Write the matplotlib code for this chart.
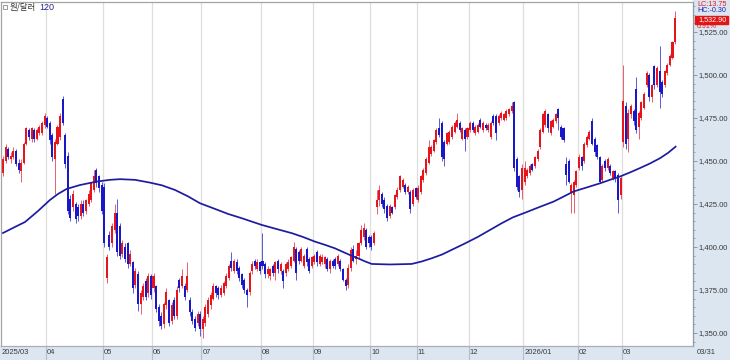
import numpy as np
import matplotlib.pyplot as plt
import matplotlib.ticker as mticker
import matplotlib.transforms as mtransforms
from matplotlib.patches import Rectangle

plt.rcParams['font.family'] = ['Liberation Sans', 'DejaVu Sans']

month_labels = ['2025/03', '04', '05', '06', '07', '08', '09', '10', '11', '12', '2026/01', '02', '03']
month_days = [17, 22, 19, 19, 23, 20, 22, 18, 20, 21, 21, 17, 21]
last_date = '03/31'

# daily candles
opens = [
    1443, 1450, 1457, 1451, 1452, 1456, 1449, 1444, 1449, 1460, 1468, 1463, 1468, 1463, 1466, 1466, 1471,
    1475, 1472, 1465, 1451, 1460, 1464, 1486, 1465, 1453, 1428, 1423, 1425, 1423, 1418, 1425, 1421, 1425, 1427, 1433, 1445, 1441, 1436,
    1435, 1382, 1407, 1402, 1410, 1420, 1412, 1396, 1400, 1402, 1390, 1391, 1378, 1384, 1367, 1371, 1380, 1373, 1383,
    1376, 1377, 1365, 1360, 1355, 1366, 1369, 1357, 1369, 1360, 1381, 1377, 1377, 1375, 1369, 1362, 1358, 1356, 1361,
    1352, 1356, 1361, 1366, 1370, 1377, 1376, 1372, 1373, 1377, 1382, 1392, 1386, 1391, 1388, 1384, 1381, 1375, 1374, 1386, 1392, 1387, 1391,
    1392, 1390, 1384, 1383, 1389, 1385, 1392, 1386, 1386, 1385, 1387, 1389, 1392, 1399, 1397, 1392, 1389, 1399, 1393, 1389,
    1391, 1397, 1390, 1391, 1390, 1393, 1387, 1392, 1393, 1390, 1392, 1387, 1381, 1378, 1388, 1399, 1393, 1395, 1402, 1406, 1410, 1406,
    1406, 1402, 1423, 1427, 1431, 1427, 1424, 1418, 1423, 1423, 1429, 1433, 1435, 1436, 1432, 1432, 1425, 1434,
    1427, 1432, 1439, 1443, 1449, 1454, 1456, 1461, 1469, 1472, 1461, 1460, 1461, 1464, 1467, 1470, 1472, 1463, 1468, 1464,
    1468, 1472, 1466, 1467, 1474, 1468, 1471, 1468, 1464, 1476, 1476, 1472, 1475, 1474, 1475, 1477, 1479, 1484, 1451, 1441, 1433,
    1438, 1441, 1443, 1448, 1447, 1451, 1458, 1467, 1471, 1477, 1466, 1470, 1473, 1480, 1470, 1469, 1448, 1450, 1432, 1430, 1436,
    1446, 1452, 1450, 1459, 1463, 1473, 1463, 1459, 1452, 1439, 1450, 1446, 1447, 1440, 1444, 1442, 1430,
    1461, 1482, 1463, 1477, 1479, 1492, 1470, 1475, 1481, 1494, 1500, 1487, 1505, 1494, 1502, 1496, 1494, 1501, 1506, 1510, 1519,
]
highs = [
    1453, 1460, 1458, 1455, 1458, 1457, 1451, 1451, 1461, 1470, 1469, 1470, 1469, 1469, 1471, 1473, 1478,
    1476, 1473, 1466, 1463, 1471, 1478, 1488, 1466, 1455, 1430, 1433, 1426, 1425, 1427, 1427, 1428, 1433, 1438, 1445, 1446, 1442, 1438,
    1437, 1396, 1409, 1414, 1425, 1428, 1414, 1404, 1402, 1403, 1398, 1392, 1388, 1386, 1375, 1379, 1382, 1385, 1384,
    1385, 1378, 1367, 1362, 1368, 1376, 1370, 1368, 1371, 1377, 1382, 1387, 1379, 1391, 1371, 1364, 1360, 1363, 1363,
    1360, 1367, 1371, 1374, 1379, 1378, 1377, 1378, 1380, 1385, 1390, 1397, 1393, 1393, 1389, 1385, 1382, 1376, 1386, 1392, 1393, 1393, 1392,
    1408, 1391, 1389, 1388, 1390, 1392, 1393, 1391, 1387, 1391, 1393, 1395, 1403, 1400, 1398, 1400, 1396, 1400, 1394, 1395,
    1396, 1398, 1396, 1396, 1395, 1394, 1393, 1393, 1394, 1396, 1393, 1388, 1382, 1390, 1400, 1401, 1398, 1403, 1413, 1414, 1411, 1407,
    1407, 1409, 1433, 1436, 1432, 1429, 1425, 1425, 1424, 1431, 1435, 1442, 1440, 1437, 1436, 1433, 1434, 1435,
    1436, 1442, 1446, 1452, 1462, 1459, 1463, 1469, 1475, 1473, 1462, 1467, 1468, 1471, 1473, 1478, 1473, 1470, 1469, 1470,
    1473, 1473, 1471, 1472, 1475, 1473, 1472, 1472, 1473, 1477, 1477, 1477, 1479, 1478, 1480, 1481, 1484, 1485, 1452, 1442, 1448,
    1450, 1446, 1448, 1449, 1453, 1457, 1469, 1478, 1480, 1478, 1474, 1475, 1478, 1481, 1471, 1470, 1452, 1451, 1437, 1439, 1445,
    1454, 1453, 1461, 1465, 1468, 1475, 1464, 1460, 1453, 1448, 1451, 1452, 1448, 1445, 1445, 1443, 1441,
    1506, 1484, 1480, 1483, 1480, 1499, 1479, 1485, 1490, 1502, 1501, 1495, 1506, 1505, 1517, 1497, 1503, 1507, 1512, 1520, 1537,
]
lows = [
    1441, 1449, 1451, 1449, 1451, 1447, 1443, 1438, 1448, 1459, 1462, 1461, 1461, 1462, 1465, 1465, 1469,
    1469, 1460, 1450, 1431, 1459, 1462, 1471, 1446, 1419, 1415, 1421, 1414, 1415, 1416, 1418, 1419, 1424, 1426, 1432, 1435, 1432, 1419,
    1400, 1379, 1398, 1400, 1408, 1395, 1393, 1394, 1391, 1388, 1389, 1373, 1376, 1363, 1361, 1369, 1369, 1371, 1370,
    1374, 1362, 1354, 1352, 1353, 1364, 1354, 1355, 1358, 1358, 1374, 1376, 1369, 1374, 1360, 1355, 1351, 1354, 1348,
    1347, 1354, 1359, 1364, 1369, 1371, 1370, 1371, 1372, 1376, 1381, 1386, 1385, 1384, 1380, 1376, 1373, 1365, 1372, 1384, 1387, 1386, 1384,
    1387, 1382, 1382, 1381, 1383, 1381, 1385, 1384, 1376, 1383, 1386, 1388, 1391, 1381, 1390, 1391, 1388, 1389, 1385, 1388,
    1390, 1389, 1389, 1390, 1388, 1386, 1385, 1388, 1387, 1389, 1386, 1380, 1375, 1376, 1386, 1391, 1390, 1393, 1401, 1404, 1399, 1400,
    1398, 1401, 1419, 1424, 1423, 1420, 1415, 1417, 1419, 1422, 1428, 1432, 1434, 1431, 1431, 1420, 1424, 1428,
    1426, 1431, 1438, 1442, 1448, 1453, 1455, 1460, 1464, 1450, 1447, 1459, 1460, 1463, 1466, 1469, 1467, 1462, 1456, 1463,
    1467, 1467, 1465, 1466, 1469, 1467, 1468, 1467, 1463, 1471, 1462, 1471, 1474, 1473, 1474, 1476, 1478, 1444, 1433, 1429, 1428,
    1436, 1440, 1442, 1444, 1446, 1450, 1457, 1466, 1470, 1467, 1465, 1469, 1472, 1468, 1463, 1461, 1436, 1437, 1420, 1420, 1435,
    1445, 1445, 1449, 1458, 1462, 1459, 1453, 1451, 1437, 1438, 1444, 1445, 1442, 1439, 1438, 1420, 1428,
    1458, 1457, 1455, 1475, 1471, 1466, 1463, 1474, 1480, 1493, 1485, 1484, 1492, 1493, 1481, 1487, 1493, 1500, 1505, 1509, 1518,
]
closes = [
    1451, 1458, 1452, 1453, 1456, 1448, 1445, 1449, 1460, 1469, 1464, 1469, 1463, 1468, 1470, 1472, 1476,
    1470, 1462, 1452, 1461, 1470, 1476, 1472, 1448, 1421, 1417, 1431, 1416, 1418, 1425, 1420, 1427, 1431, 1437, 1441, 1437, 1434, 1421,
    1402, 1394, 1400, 1412, 1420, 1397, 1395, 1402, 1393, 1390, 1396, 1376, 1386, 1367, 1373, 1377, 1371, 1383, 1372,
    1383, 1364, 1357, 1354, 1367, 1374, 1356, 1366, 1360, 1375, 1376, 1383, 1371, 1383, 1362, 1357, 1353, 1361, 1352,
    1358, 1365, 1369, 1372, 1377, 1373, 1372, 1376, 1379, 1383, 1389, 1388, 1392, 1386, 1382, 1378, 1375, 1372, 1385, 1390, 1389, 1391, 1386,
    1389, 1384, 1387, 1387, 1385, 1391, 1387, 1390, 1380, 1390, 1391, 1394, 1400, 1385, 1392, 1399, 1395, 1391, 1386, 1394,
    1395, 1391, 1395, 1394, 1394, 1387, 1392, 1389, 1389, 1395, 1387, 1381, 1377, 1388, 1398, 1392, 1395, 1402, 1410, 1411, 1400, 1402,
    1400, 1408, 1427, 1433, 1425, 1422, 1417, 1424, 1420, 1430, 1433, 1441, 1439, 1432, 1435, 1422, 1433, 1429,
    1434, 1441, 1445, 1451, 1458, 1458, 1462, 1468, 1465, 1452, 1451, 1466, 1467, 1470, 1472, 1474, 1468, 1469, 1463, 1469,
    1472, 1468, 1470, 1471, 1470, 1472, 1469, 1471, 1472, 1472, 1466, 1476, 1478, 1477, 1479, 1480, 1482, 1446, 1435, 1432, 1446,
    1446, 1445, 1447, 1445, 1452, 1456, 1468, 1477, 1479, 1469, 1473, 1474, 1477, 1475, 1464, 1462, 1442, 1438, 1436, 1438, 1444,
    1452, 1447, 1460, 1464, 1467, 1460, 1455, 1452, 1438, 1447, 1446, 1451, 1443, 1444, 1440, 1427, 1440,
    1485, 1460, 1478, 1482, 1473, 1468, 1478, 1484, 1489, 1501, 1487, 1494, 1494, 1504, 1490, 1489, 1502, 1506, 1511, 1519.15, 1532.9,
]

# 120-day moving average, read at points along the line (day index, value)
ma_idx = [0, 4.6, 8.5, 13.5, 18.1, 21.2, 24.5, 29.7, 36.1, 41.2, 45.1, 50.9, 56.6, 61.3, 66.3, 71.3,
          75.9, 81.7, 86.7, 92.0, 99.7, 105.2, 111.3, 115.6, 120.2, 124.1, 127.9, 131.0, 133.7, 136.8,
          139.5, 142.1, 149.1, 157.5, 161.5, 165.2, 169.2, 172.9, 178.0, 183.2, 187.7, 192.2, 196.5,
          201.2, 206.9, 212.1, 215.8, 219.8, 225.0, 230.1, 233.9, 237.7, 241.6, 245.4, 249.3, 253.2,
          256.3, 259.2]
ma_val = [1408.1, 1411.6, 1414.5, 1420.9, 1427.3, 1430.8, 1433.7, 1436.0, 1438.0, 1439.0, 1439.4,
          1439.0, 1437.4, 1435.8, 1433.1, 1429.4, 1425.4, 1422.1, 1419.2, 1416.7, 1412.8, 1410.5,
          1408.0, 1405.8, 1403.1, 1401.2, 1399.2, 1397.1, 1395.3, 1393.4, 1391.6, 1390.1, 1389.8,
          1390.1, 1391.6, 1393.4, 1395.6, 1398.3, 1402.0, 1406.0, 1409.9, 1413.8, 1417.2, 1419.9,
          1423.3, 1426.3, 1429.1, 1432.2, 1434.6, 1437.0, 1439.0, 1440.9, 1443.3, 1445.8, 1448.5,
          1451.6, 1454.7, 1458.3]

hc_text = 'HC:-0.30'

o = np.array(opens, float)
h = np.array(highs, float)
l = np.array(lows, float)
c = np.array(closes, float)
idx = np.arange(len(c))

red = '#e8141c'
blue = '#1818c8'
up = c >= o
body_col = np.where(up, red, blue)
wick_col = np.where(up, '#e8606a', '#5a5ad8')

W, H = 730, 360
fig = plt.figure(figsize=(W / 100, H / 100), dpi=100)
ax = fig.add_axes([1 / W, 14 / H, 692 / W, 344 / H])

# bands behind the axes
fig.patches.append(Rectangle((693 / W, 0), 37 / W, 1, transform=fig.transFigure,
                             color='#dce6f1', zorder=-2))
fig.patches.append(Rectangle((0, 0), 1, 14 / H, transform=fig.transFigure,
                             color='#dce6f1', zorder=-2))

month_start = np.cumsum([0] + month_days[:-1])
grid_x = month_start[1:] - 0.6
for g in grid_x:
    ax.axvline(g, color='#dedede', lw=0.9, zorder=0)

ax.vlines(idx, l, h, colors=wick_col, lw=0.7, zorder=2)
body = np.where(np.abs(c - o) < 0.5, 0.5, c - o)
ax.bar(idx, body, bottom=o, width=0.78, color=body_col, lw=0, zorder=2)
ax.plot(ma_idx, ma_val, color='#1c1ca0', lw=1.25, zorder=3, solid_joinstyle='round')

ax.set_xlim(-0.77, 265.9)
ax.set_ylim(1342.4, 1542.4)
ax.set_xticks([])
ax.yaxis.tick_right()
ax.set_yticks(np.arange(1350, 1526, 25))
ax.yaxis.set_minor_locator(mticker.MultipleLocator(5))
ax.yaxis.set_major_formatter(mticker.FuncFormatter(lambda v, p: f'{v:,.2f}'))
ax.tick_params(axis='y', which='major', direction='out', length=3, width=0.6, color='#7f8a99',
               labelsize=5.5, labelcolor='#3a3a3a', pad=1)
ax.tick_params(axis='y', which='minor', direction='out', length=1.5, width=0.5, color='#7f8a99')
for side in ['left', 'top']:
    ax.spines[side].set_color('#a4a4a4')
ax.spines['right'].set_color('#8e98a6')
ax.spines['bottom'].set_color('#a6aebb')
for sp in ax.spines.values():
    sp.set_linewidth(0.9)

# month labels in the bottom band
band = mtransforms.blended_transform_factory(ax.transData, fig.transFigure)
ax.text(-0.4, 7 / H, month_labels[0], transform=band, fontsize=5.5, color='#3a3a3a',
        va='center', ha='left', clip_on=False)
for g, lab in zip(grid_x, month_labels[1:]):
    ax.plot([g, g], [0, 14 / H], transform=band, color='#b4bdca', lw=0.8, clip_on=False)
    ax.text(g + 0.5, 7 / H, lab, transform=band, fontsize=5.5, color='#3a3a3a',
            va='center', ha='left', clip_on=False)
fig.text(697 / W, 7 / H, last_date, fontsize=5.5, color='#3a3a3a', va='center', ha='left')

# title at top left
fig.patches.append(Rectangle((3 / W, 1 - 9 / H), 4 / W, 4 / H, transform=fig.transFigure,
                             fill=False, ec='#8a8a8a', lw=0.6))
fig.text(10 / W, 1 - 7 / H, '원/달러', fontsize=6, color='#333333', va='center',
         family=['Noto Sans CJK KR', 'DejaVu Sans'])
fig.text(39 / W, 1 - 7 / H, '120', fontsize=6.5, color='#2a2a8a', va='center')

# last price box on the right
chg = c[-1] - c[-2]
fig.text(697 / W, 1 - 5 / H, f'LC:{chg:.2f}', fontsize=5.2, color=red, va='center')
fig.text(697 / W, 1 - 11 / H, hc_text, fontsize=5.2, color='#2020b0', va='center')
fig.patches.append(Rectangle((695 / W, 1 - 23.5 / H), 33 / W, 7 / H, transform=fig.transFigure,
                             color='#e01515', zorder=3))
fig.text(698 / W, 1 - 20 / H, f'{c[-1]:,.2f}', fontsize=5.2, color='white', va='center', zorder=4)
fig.text(697 / W, 1 - 26.5 / H, f'{chg / c[-2] * 100:.2f}%', fontsize=5, color=red, va='center', zorder=4)

fig.savefig('out.png', dpi=100)
